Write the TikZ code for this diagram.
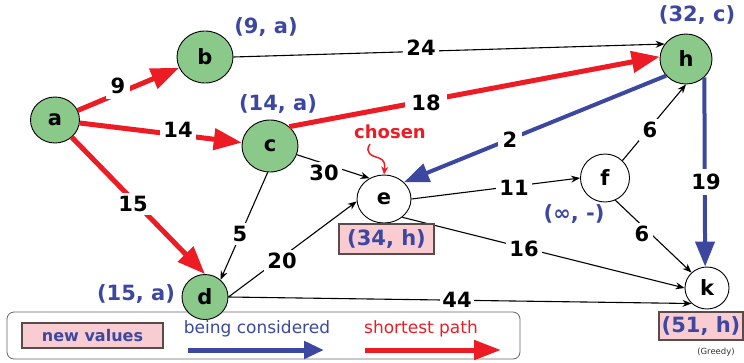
\documentclass[tikz,border=0pt]{standalone}
\usepackage{fontspec}
\setmainfont{DejaVu Sans}
\usetikzlibrary{shapes.geometric,arrows.meta}
\definecolor{gfill}{HTML}{8BC98A}
\definecolor{rd}{HTML}{ED1C24}
\definecolor{bl}{HTML}{3C48A0}
\definecolor{pk}{HTML}{F8CCD0}
\definecolor{pkborder}{HTML}{5A4A4A}
\begin{document}
\begin{tikzpicture}[x=1pt,y=-1pt,
  vtx/.style={ellipse, draw=black, line width=0.9pt, inner sep=0pt, font=\fontsize{21}{23}\selectfont\bfseries},
  lbl/.style={fill=white, inner sep=3.5pt, font=\fontsize{21}{23}\selectfont\bfseries},
  val/.style={text=bl, inner sep=1pt, font=\fontsize{21}{23}\selectfont\bfseries},
  newval/.style={fill=pk, draw=pkborder, line width=1.1pt, text=bl, inner sep=0pt, font=\fontsize{21}{23}\selectfont\bfseries},
  thin/.style={draw=black, line width=1.1pt, -{Stealth[length=9pt,width=7pt]}},
  redarr/.style={draw=rd, line width=5pt, -{Triangle[length=28pt,width=21pt]}},
  bluearr/.style={draw=bl, line width=4pt, -{Triangle[length=25pt,width=19pt]}}
]
\useasboundingbox (0,0) rectangle (744,362);

% legend
\node[draw=black!60, line width=0.8pt, rounded corners=7pt, minimum width=513pt, minimum height=47pt, inner sep=0pt] (legend) at (263.5,335.5) {};
\node[fill=pk, draw=pkborder, line width=1.1pt, minimum width=141pt, minimum height=25pt, inner sep=0pt, text=bl, font=\fontsize{16}{18}\selectfont\bfseries] (lnew) at (92.5,335.5) {new values};
\node[text=bl, inner sep=0pt, font=\fontsize{17}{19}\selectfont] (lbeing) at (257,329) {being considered};
\node[text=rd, inner sep=0pt, font=\fontsize{17}{19}\selectfont] (lshort) at (421,329) {shortest path};
\coordinate (lb1) at (188,350);
\coordinate (lb2) at (324,350);
\coordinate (lr1) at (365,350);
\coordinate (lr2) at (501,350);
\draw[draw=bl, line width=5pt, -{Triangle[length=20pt,width=17pt]}] (lb1) -- (lb2);
\draw[draw=rd, line width=5pt, -{Triangle[length=27pt,width=19pt]}] (lr1) -- (lr2);

% vertices
\node[vtx, fill=gfill, minimum width=49pt, minimum height=46pt] (a) at (55,120) {a};
\node[vtx, fill=gfill, minimum width=56pt, minimum height=52pt] (b) at (205,57) {b};
\node[vtx, fill=gfill, minimum width=56pt, minimum height=52pt] (c) at (270,146) {c};
\node[vtx, fill=gfill, minimum width=52pt, minimum height=50pt] (h) at (686,59) {h};
\node[vtx, fill=white, minimum width=54pt, minimum height=48pt] (e) at (384,199) {e};
\node[vtx, fill=white, minimum width=49pt, minimum height=48pt] (f) at (605,178) {f};
\node[vtx, fill=gfill, minimum width=46pt, minimum height=45pt] (d) at (205,297) {d};
\node[vtx, fill=white, minimum width=44pt, minimum height=42pt] (k) at (707,288) {k};

% edges
\draw[redarr] (a) -- (b);
\draw[redarr] (a) -- (c);
\draw[redarr] (a) -- (d.north);
\draw[thin] (b.east) -- (h.145);
\draw[redarr] (c.45) -- (h.175);
\draw[bluearr] (h.220) -- (e.40);
\draw[thin] (c) -- (e.125);
\draw[thin] (c.265) -- (d.48);
\draw[thin] (d.east) -- (e.185);
\draw[thin] (e.east) -- (f.west);
\draw[thin] (f.45) -- (h.south);
\draw[thin] (f.-65) -- (k.135);
\draw[thin] (e.-45) -- (k.180);
\draw[bluearr] (h.-45) -- (k.95);
\draw[thin] (d.east) -- (k.225);

% edge labels
\node[lbl, inner sep=5pt] (l9) at (118,86) {9};
\node[lbl] (l14) at (178,130) {14};
\node[lbl] (l15) at (133,204) {15};
\node[lbl] (l24) at (421,48) {24};
\node[lbl, inner sep=6pt] (l18) at (426,103) {18};
\node[lbl, inner sep=5pt] (l2) at (510,140) {2};
\node[lbl] (l30) at (324,173) {30};
\node[lbl] (l5) at (240,234) {5};
\node[lbl] (l20) at (282,261) {20};
\node[lbl] (l11) at (514,188) {11};
\node[lbl] (l6a) at (650,130) {6};
\node[lbl] (l6b) at (642,234) {6};
\node[lbl] (l16) at (524,249) {16};
\node[lbl, inner sep=5pt] (l19) at (706,182) {19};
\node[lbl, inner sep=2pt] (l44) at (457,300) {44};

% values
\node[val] (va) at (266,27) {(9, a)};
\node[val] (vc) at (278,104) {(14, a)};
\node[val] (vh) at (697,15) {(32, c)};
\node[val] (vd) at (136,294) {(15, a)};
\node[val] (vf) at (574,214) {(∞, -)};
\node[newval, minimum width=95pt, minimum height=30pt] (ve) at (386.5,239) {(34, h)};
\node[newval, minimum width=84pt, minimum height=28pt] (vk) at (701,326) {(51, h)};
\node[inner sep=0pt, font=\fontsize{8.5}{10}\selectfont, text=black!80] (greedy) at (716,352) {(Greedy)};

% chosen
\node[text=rd, inner sep=0pt, font=\fontsize{18}{20}\selectfont\bfseries] (chosen) at (390,132) {chosen};
\coordinate (cs) at (370,144);
\draw[draw=rd, line width=1.5pt, -{Stealth[length=8pt,width=7pt]}] (cs) .. controls (364,153) and (372,156) .. (379,158) .. controls (385,160) and (385,165) .. (e.north);
\end{tikzpicture}
\end{document}
